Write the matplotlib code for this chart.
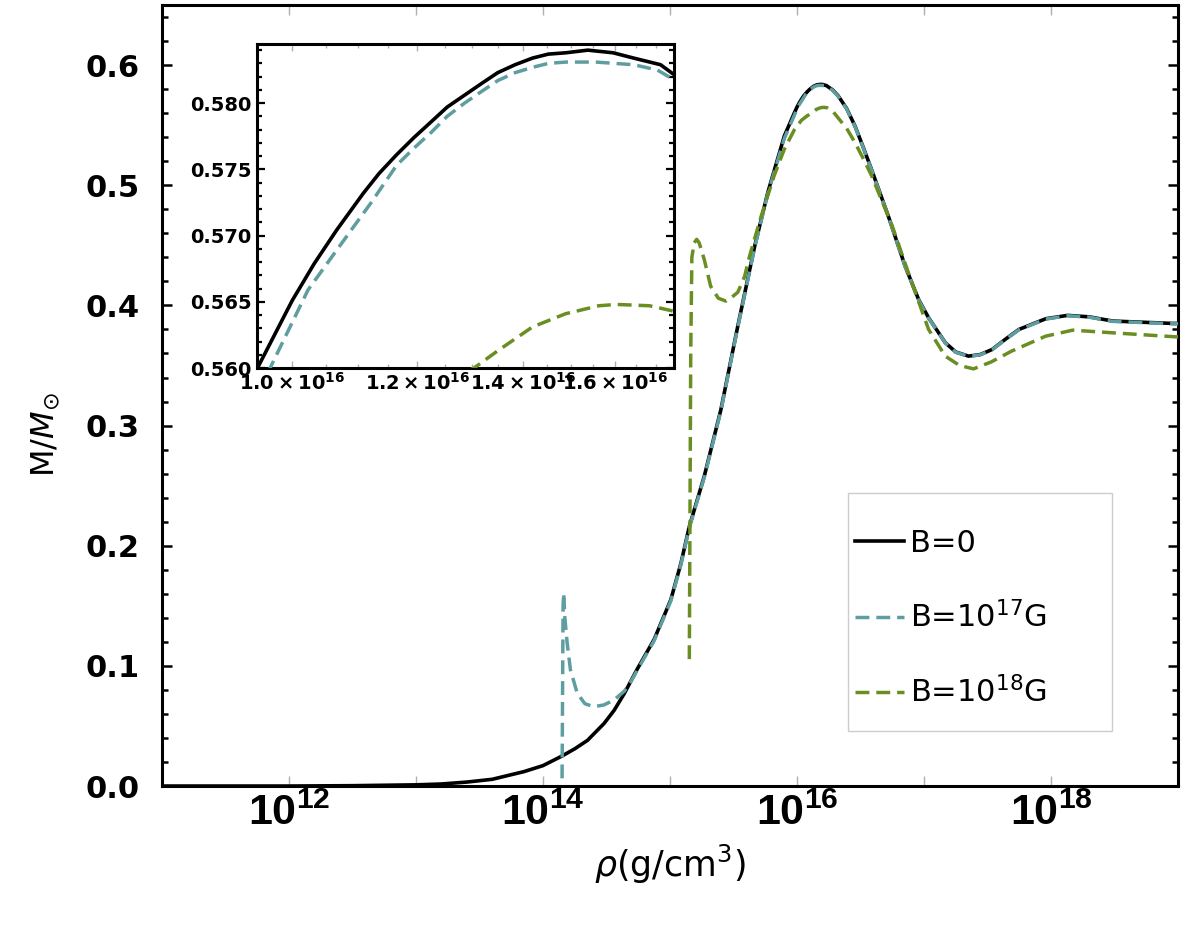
import numpy as np
import matplotlib

matplotlib.use("Agg")  # no display, write PNG only
import matplotlib.pyplot as plt
from matplotlib.patches import Rectangle
from matplotlib.ticker import FixedLocator, MultipleLocator, NullFormatter, NullLocator

# log10(rho / g cm^-3) and M/Msun
logrho_b0 = [11.0, 12.0, 12.5, 13.0, 13.2, 13.4, 13.6, 13.85, 14.0, 14.15, 14.25, 14.35,
             14.48, 14.56, 14.64, 14.74, 14.875, 15.006, 15.085, 15.152, 15.27, 15.40,
             15.534, 15.666, 15.77, 15.90, 15.978, 16.000, 16.014, 16.028, 16.045,
             16.055, 16.066, 16.077, 16.088, 16.098, 16.109, 16.120, 16.130, 16.141,
             16.152, 16.162, 16.173, 16.187, 16.203, 16.216, 16.233, 16.241, 16.28,
             16.324, 16.39, 16.456, 16.52, 16.587, 16.72, 16.85, 16.957, 17.036,
             17.167, 17.25, 17.35, 17.44, 17.536, 17.64, 17.747, 17.958, 18.13, 18.3,
             18.485, 18.96, 19.0]
mass_b0 = [0.0, 0.0, 0.0003, 0.001, 0.0017, 0.0033, 0.0056, 0.012, 0.017, 0.025, 0.031, 0.038,
           0.052, 0.063, 0.077, 0.097, 0.122, 0.155, 0.185, 0.216, 0.258, 0.313,
           0.383, 0.449, 0.494, 0.541, 0.5600, 0.5651, 0.5679, 0.5704, 0.5732,
           0.5747, 0.5761, 0.5774, 0.5786, 0.5797, 0.5806, 0.5815, 0.5823, 0.5829,
           0.5834, 0.5837, 0.5838, 0.5840, 0.5838, 0.5834, 0.5829, 0.5822, 0.5794,
           0.5744, 0.5640, 0.5494, 0.5320, 0.513, 0.474, 0.433, 0.405, 0.3897,
           0.369, 0.3612, 0.3578, 0.3590, 0.3633, 0.3718, 0.380, 0.3889, 0.3917, 0.3905,
           0.387, 0.385, 0.385]

logrho_b17 = [14.150, 14.158, 14.163, 14.172, 14.19, 14.216, 14.27, 14.33, 14.40, 14.48,
              14.56, 14.64, 14.69, 14.74, 14.875, 15.006, 15.085, 15.152, 15.27, 15.40,
              15.534, 15.666, 15.77, 15.90, 15.986, 16.010, 16.036, 16.050, 16.066,
              16.077, 16.088, 16.098, 16.109, 16.120, 16.130, 16.141, 16.152, 16.162,
              16.173, 16.192, 16.216, 16.231, 16.241, 16.28, 16.324, 16.39, 16.456,
              16.52, 16.587, 16.72, 16.85, 16.957, 17.036, 17.167, 17.25, 17.35, 17.44,
              17.536, 17.64, 17.747, 17.958, 18.13, 18.3, 18.485, 18.96, 19.0]
mass_b17 = [0.0064, 0.150, 0.1606, 0.140, 0.119, 0.0967, 0.077, 0.0685, 0.066, 0.0675,
            0.0717, 0.079, 0.0866, 0.096, 0.121, 0.154, 0.184, 0.215, 0.257, 0.312,
            0.382, 0.448, 0.493, 0.539, 0.5600, 0.5659, 0.5702, 0.5725, 0.5753,
            0.5766, 0.5778, 0.5790, 0.5800, 0.5809, 0.5817, 0.5823, 0.5827, 0.5830,
            0.5831, 0.5831, 0.5829, 0.5825, 0.5818, 0.5790, 0.5740, 0.5636, 0.5490,
            0.5316, 0.5127, 0.4737, 0.4327, 0.4047, 0.3894, 0.3688, 0.3610, 0.3576,
            0.3588, 0.3631, 0.3716, 0.3797, 0.3886, 0.3914, 0.3902, 0.3867, 0.3847,
            0.3847]

logrho_b18 = [15.152, 15.163, 15.172, 15.190, 15.210, 15.230, 15.27, 15.32, 15.38, 15.44,
              15.50, 15.534, 15.587, 15.626, 15.72, 15.82, 15.90, 15.978, 16.034, 16.08,
              16.115, 16.130, 16.152, 16.173, 16.194, 16.205, 16.226, 16.241, 16.28,
              16.324, 16.39, 16.456, 16.52, 16.587, 16.75, 16.90, 17.036, 17.167, 17.28,
              17.39, 17.53, 17.69, 17.958, 18.17, 18.485, 18.96, 19.0]
mass_b18 = [0.1056, 0.36, 0.44, 0.452, 0.455, 0.452, 0.438, 0.416, 0.406, 0.4036,
            0.408, 0.411, 0.424, 0.441, 0.475, 0.508, 0.530, 0.546, 0.554, 0.5578,
            0.5600, 0.5613, 0.5631, 0.5641, 0.5647, 0.5648, 0.5647, 0.5643, 0.5618,
            0.556, 0.5475, 0.5356, 0.5225, 0.508, 0.466, 0.420, 0.380, 0.3578, 0.3500,
            0.3472, 0.3530, 0.362, 0.3744, 0.3794, 0.3772, 0.374, 0.3738]

series_labels = ["B=0", r"B=10$^{17}$G", r"B=10$^{18}$G"]

main_decades = [12, 13, 14, 15, 16, 17, 18]
main_yticks = [0.0, 0.1, 0.2, 0.3, 0.4, 0.5, 0.6]
inset_xticks = [1.0e16, 1.2e16, 1.4e16, 1.6e16]
inset_xminor = [0.95e16, 1.05e16, 1.1e16, 1.15e16, 1.25e16, 1.3e16, 1.35e16,
                1.45e16, 1.5e16, 1.55e16, 1.65e16, 1.7e16]
inset_yticks = [0.560, 0.565, 0.570, 0.575, 0.580]

BLACK = "#000000"
TEAL = "#5F9EA0"
GREEN = "#6B8E23"
DASH = (0, (4.0, 2.0))

plt.rcParams["font.family"] = ["DejaVu Sans"]
plt.rcParams["mathtext.fontset"] = "dejavusans"
# only used by text drawn with math_fontfamily="custom" (main x tick labels)
plt.rcParams["mathtext.rm"] = "Liberation Sans"
plt.rcParams["mathtext.it"] = "Liberation Sans:italic"
plt.rcParams["mathtext.bf"] = "Liberation Sans:bold"


def _draw_curves(ax):
    ax.plot(10.0 ** np.array(logrho_b0), mass_b0, color=BLACK, lw=2.6,
            label=series_labels[0], zorder=3)
    ax.plot(10.0 ** np.array(logrho_b17), mass_b17, color=TEAL, lw=2.5, ls=DASH,
            label=series_labels[1], zorder=4)
    ax.plot(10.0 ** np.array(logrho_b18), mass_b18, color=GREEN, lw=2.5, ls=DASH,
            label=series_labels[2], zorder=5)


def _frame(ax, lw):
    for sp in ax.spines.values():
        sp.set_linewidth(lw)
        sp.set_color(BLACK)


fig = plt.figure(figsize=(12, 9.3), dpi=100)
ax = fig.add_axes([0.135, 0.1548, 0.8467, 0.8398])
_draw_curves(ax)
ax.set_xscale("log")
ax.set_xlim(1e11, 1e19)
ax.set_ylim(0.0, 0.65)
_frame(ax, 2.2)

xlabels = [r"$\mathbf{10^{%d}}$" % d if d % 2 == 0 else "" for d in main_decades]
ax.set_xticks([10.0 ** d for d in main_decades], xlabels, fontsize=31,
              math_fontfamily="custom")
ax.xaxis.set_minor_locator(NullLocator())
ax.tick_params(axis="x", which="major", direction="in", length=7, width=1,
               color="#b0b0b0", top=True, pad=4)

ax.set_yticks(main_yticks, [f"{v:.1f}" for v in main_yticks], fontsize=22,
              fontweight="bold")
ax.yaxis.set_minor_locator(MultipleLocator(0.02))
ax.tick_params(axis="y", which="both", direction="in", right=True, color=BLACK,
               width=1.8, pad=16)
ax.tick_params(axis="y", which="major", length=7)
ax.tick_params(axis="y", which="minor", length=4)

ax.set_xlabel(r"$\rho$(g/cm$^3$)", fontsize=25)
ax.xaxis.set_label_coords(0.5, -0.073)
ax.set_ylabel(r"M/$M_{\odot}$", fontsize=23)
ax.yaxis.set_label_coords(-0.098, 0.45)

# legend box drawn separately so its padding can match the original
ax.add_patch(Rectangle((0.6752, 0.0704), 0.2598, 0.3048, transform=ax.transAxes,
                       facecolor="white", edgecolor="#cccccc", lw=1.0, zorder=6))
leg = ax.legend(loc="upper left", bbox_to_anchor=(0.682, 0.329), fontsize=22,
                frameon=False, handlelength=1.6, handletextpad=0.2,
                labelspacing=1.4, borderpad=0, borderaxespad=0)
leg.set_zorder(7)

# inset: zoom on the maximum
axin = fig.add_axes([0.2142, 0.6043, 0.3475, 0.3489])
_draw_curves(axin)
axin.set_xscale("log")
axin.set_xlim(0.95e16, 1.744e16)
axin.set_ylim(0.560, 0.5845)
_frame(axin, 2.2)

axin.set_xticks(inset_xticks,
                [r"$\mathbf{%.1f\times10^{16}}$" % (t / 1e16) for t in inset_xticks],
                fontsize=14)
axin.xaxis.set_minor_locator(FixedLocator(inset_xminor))
axin.xaxis.set_minor_formatter(NullFormatter())
axin.tick_params(axis="x", which="both", direction="in", top=True, width=1,
                 color="#b0b0b0", pad=3)
axin.tick_params(axis="x", which="major", length=5)
axin.tick_params(axis="x", which="minor", length=3)

axin.set_yticks(inset_yticks, [f"{v:.3f}" for v in inset_yticks], fontsize=14,
                fontweight="bold")
axin.yaxis.set_minor_locator(MultipleLocator(0.001))
axin.tick_params(axis="y", which="both", direction="in", right=True, color=BLACK,
                 width=1.6, pad=4)
axin.tick_params(axis="y", which="major", length=6)
axin.tick_params(axis="y", which="minor", length=3.5)

fig.savefig("out.png", dpi=100)
plt.close(fig)
